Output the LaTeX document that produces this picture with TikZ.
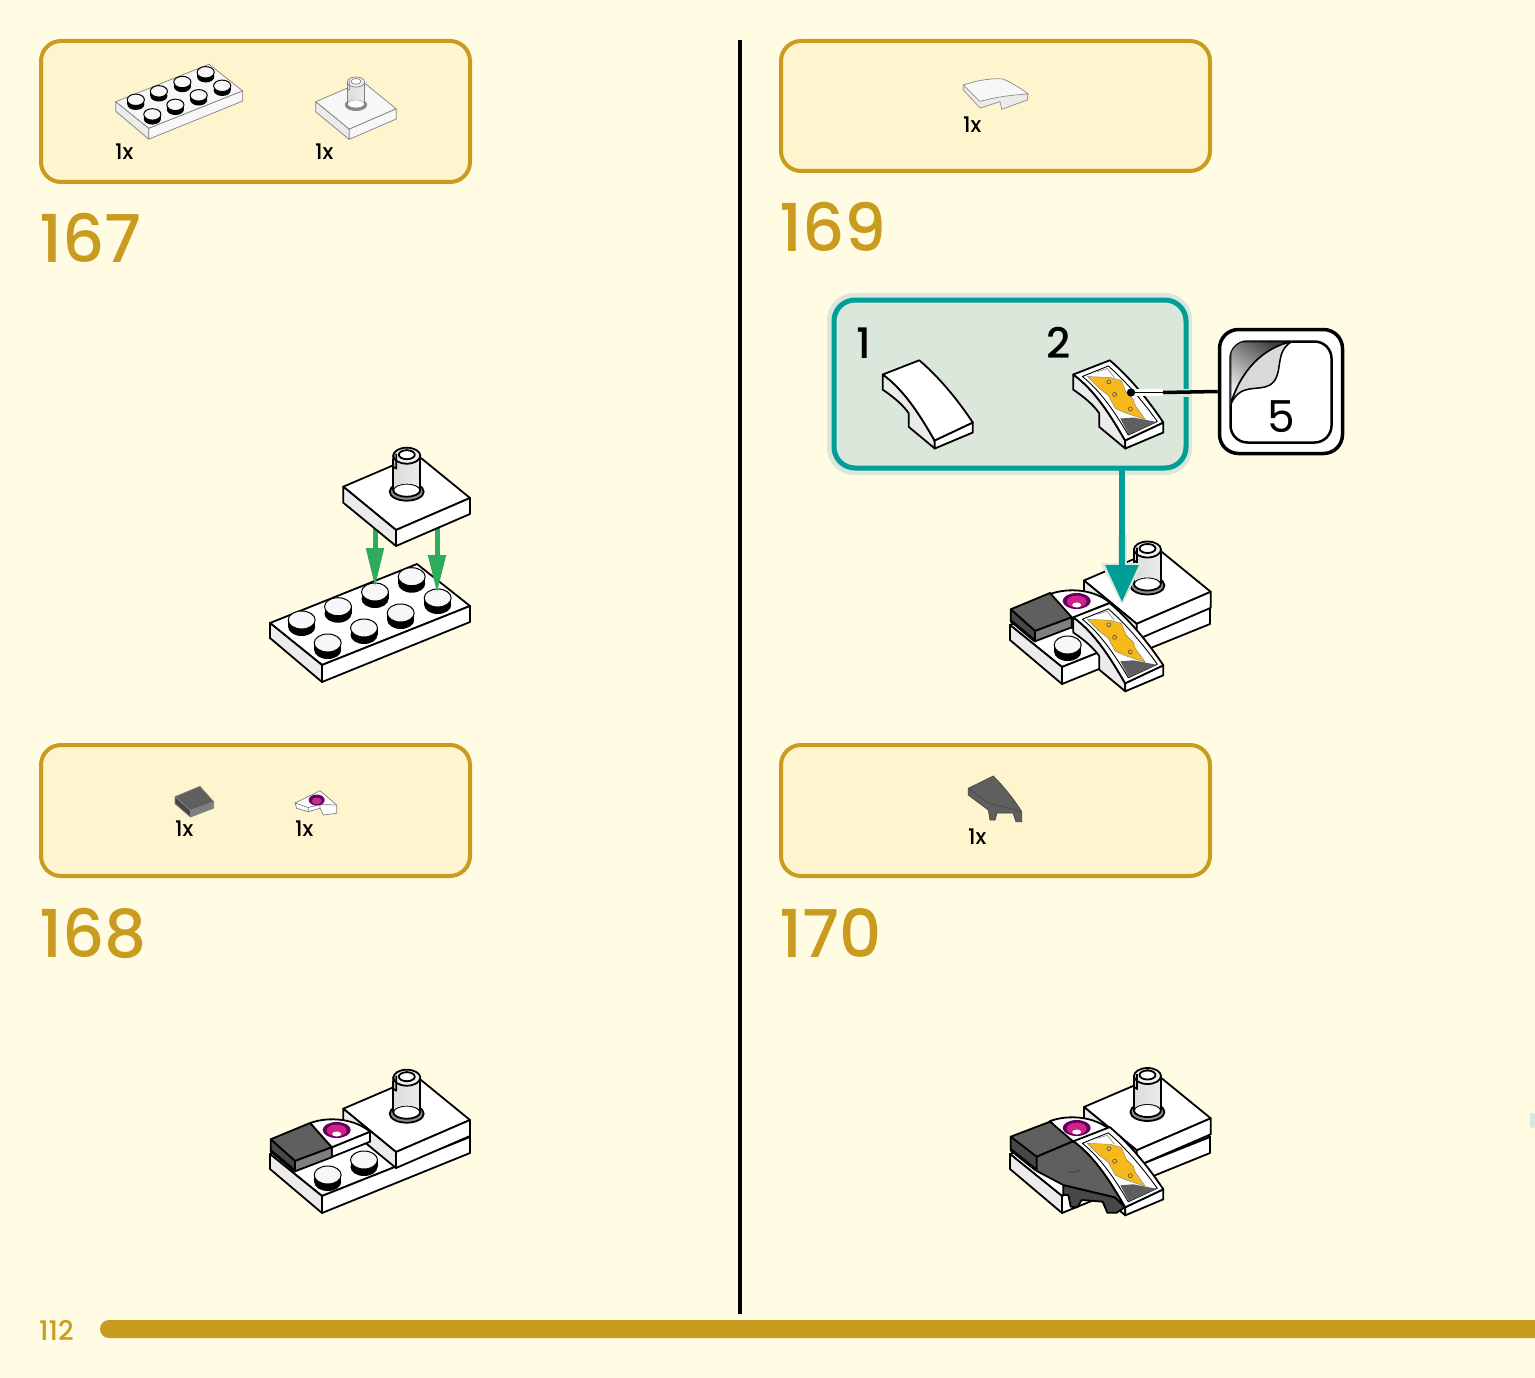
\documentclass[tikz,border=0pt]{standalone}
\usepackage{fontspec}
\usetikzlibrary{arrows.meta}
\newfontfamily\stepfont[UprightFont=* Medium]{Poppins}
\newfontfamily\labelfont[UprightFont=* Medium]{Poppins}
\newfontfamily\plainfont{Poppins}
\definecolor{pagebg}{HTML}{FFFCE3}
\definecolor{boxbg}{HTML}{FEF5CE}
\definecolor{gold}{HTML}{C99B1E}
\definecolor{tealline}{HTML}{009E96}
\definecolor{tealbg}{HTML}{DAE7DA}
\definecolor{arrowgreen}{HTML}{2FAB5E}
\definecolor{darkpart}{HTML}{5F5F5F}
\definecolor{sidepart}{HTML}{474747}
\definecolor{stickeryellow}{HTML}{F5B91C}
\newcommand\studshape{
    \fill[black] (-13.5,0) rectangle (13.5,7);
    \fill[black] (0,7) ellipse [x radius=13.5, y radius=9];
    \filldraw[fill=black!3, draw=black, line width=1pt] (0,0) ellipse [x radius=13.5, y radius=9];
}
\newcommand\plateshape{
    \path[brickface] (0,0) -- (52,42) -- (200,-17) -- (147,-59) -- cycle;
    \path[brickside] (0,0) -- (52,42) -- (52,59) -- (0,15) -- cycle;
    \path[brickface] (52,42) -- (200,-17) -- (200,-1) -- (52,59) -- cycle;
}
\tikzset{
    brickline/.style={draw=black, line width=1.8pt, line join=round},
    brickface/.style={fill=white, brickline},
    brickside/.style={fill=black!8, brickline},
    smallpart/.style={brickline/.style={draw=black!50, line width=.7pt, line join=round},
        brickface/.style={fill=black!3, brickline}, brickside/.style={fill=black!8, brickline}},
    partbox/.style={draw=gold, line width=4pt, fill=boxbg, rounded corners=20pt},
    stepnum/.style={anchor=west, inner sep=0pt, text=gold, font=\stepfont\fontsize{66}{66}\selectfont},
    countlabel/.style={anchor=west, inner sep=0pt, font=\labelfont\fontsize{21.5}{22}\selectfont},
    callnum/.style={inner sep=0pt, font=\stepfont\fontsize{42}{42}\selectfont},
    stud/.pic={\studshape},
    plate/.pic={\plateshape},
    fullplate/.pic={
        \plateshape
        \foreach \sx/\sy in {141.7/-46.3, 105/-31, 167.7/-25, 68/-16.3, 130.7/-10, 31.7/-3, 94/5, 57.7/20} {
            \begin{scope}[shift={(\sx,\sy)}]
                \studshape
            \end{scope}
        }
    },
    pintile/.pic={
        \path[brickface] (0,0) -- (52.7,43.3) -- (126.7,11.3) -- (74,-31.7) -- cycle;
        \path[brickside] (0,0) -- (52.7,43.3) -- (52.7,59.3) -- (0,16) -- cycle;
        \path[brickface] (52.7,43.3) -- (126.7,11.3) -- (126.7,27.3) -- (52.7,59.3) -- cycle;
        \path[brickline, fill=black!45] (63.4,5) ellipse [x radius=17, y radius=9];
        \path[brickline, fill=white] (63.4,3.5) ellipse [x radius=13.5, y radius=6.5];
        \shade[left color=black!14, middle color=white, right color=black!8]
            (50,-28) -- (50,3) arc [start angle=180, end angle=360, x radius=13.5, y radius=6] -- (77,-28) -- cycle;
        \draw[brickline] (50,-28) -- (50,3) (77,-28) -- (77,3);
        \path[brickline, fill=black!6] (63.5,-31) ellipse [x radius=13.5, y radius=8];
        \path[brickline, fill=white] (63.5,-32) ellipse [x radius=8, y radius=4.5];
        \draw[brickline] (50,-32) -- (50,-20) -- (53,-18) -- (53,-33) (63.5,-38) -- (63.5,-36);
    },
    flattile/.pic={
        \path[brickline, fill=darkpart] (0,0) -- (39.3,-16.3) -- (61,8) -- (24.3,21.7) -- cycle;
        \path[brickline, fill=sidepart] (0,0) -- (24.3,21.7) -- (24.3,32) -- (0,11) -- cycle;
        \path[brickline, fill=darkpart!80] (24.3,21.7) -- (61,8) -- (61,18) -- (24.3,32) -- cycle;
    },
    roundtile/.pic={
        \path[brickface] (21.7,24.3) -- (60,8.7) -- (60,18.7) -- (21.7,34) -- cycle;
        \path[brickface] (0,0) .. controls (20,-7) and (45,-4) .. (60,8.7) -- (21.7,24.3) -- cycle;
        \fill[violet!75!black] (26.7,7) ellipse [x radius=14, y radius=8];
        \fill[magenta!85!black] (26.7,7.5) ellipse [x radius=10, y radius=6];
        \fill[white] (26.7,11) ellipse [x radius=4.5, y radius=2.5];
    },
    curveslope/.pic={
        \path[brickside] (0,0) -- (0,15.2) .. controls (10,22) and (20,30) .. (26,38.9) -- (26,52.4)
            -- (52,74) -- (51.8,66) .. controls (38,42) and (22,16) .. (0,0) -- cycle;
        \path[brickface] (51.8,66) -- (90,48) -- (90,58) -- (52,74) -- cycle;
        \path[brickface] (0,0) -- (36.5,-14.2) .. controls (60,6) and (78,30) .. (90,48) -- (51.8,66)
            .. controls (38,42) and (22,16) .. (0,0) -- cycle;
    },
    stickerart/.pic={
        \path[brickline, line width=.9pt, fill=white] (9,2) -- (35,-8.5) .. controls (54,8) and (72,30) .. (84,47)
            -- (55,60.5) .. controls (43,40) and (28,17) .. (9,2) -- cycle;
        \fill[darkpart] (47,44) -- (60,43) -- (83.5,47.5) -- (55.5,60) -- cycle;
        \draw[black!40, line width=.8pt] (24,-3) -- (34,-6) -- (41,3);
        \path[fill=stickeryellow, draw=black!50, line width=.4pt] (14,2) -- (37,3) -- (48,6) -- (53,18) -- (60,25) -- (62,31)
            -- (72,45) -- (52.4,38.5) -- (42,34) -- (35,21) -- (26,14) -- cycle;
        \foreach \hx/\hy in {35.5/7.4, 41.3/20, 57/34.5}
            \draw[black!70, line width=.6pt] (\hx,\hy) circle [radius=2];
    },
}
\begin{document}
\begin{tikzpicture}[x=1pt, y=-1pt]
\useasboundingbox (0,0) rectangle (1535,1378);
\fill[pagebg] (0,0) rectangle (1535,1378);

% page furniture
\draw[black, line width=4pt] (740,40) coordinate (divtop) -- (740,1314) coordinate (divbot);
\fill[gold] (1535,1320) [rounded corners=9pt] -- (100,1320) -- (100,1338) [sharp corners] -- (1535,1338) -- cycle;
\node[anchor=west, inner sep=0pt, text=gold, font=\labelfont\fontsize{27}{28}\selectfont] (pagenum) at (39,1330) {112};
\fill[tealbg, rounded corners=2pt] (1530,1113) rectangle (1535,1128);

% part boxes
\draw[partbox] (41,41) rectangle (470,182);
\draw[partbox] (781,41) rectangle (1210,171);
\draw[partbox] (41,745) rectangle (470,876);
\draw[partbox] (781,745) rectangle (1210,876);

% step numbers
\node[stepnum] (num167) at (39,238) {167};
\node[stepnum] (num168) at (39,933) {168};
\node[stepnum] (num169) at (779,227) {169};
\node[stepnum] (num170) at (779,933) {170};

% box 167
\pic[scale=.635, smallpart] at (115.7,101.7) {fullplate};
\pic[scale=.635, smallpart] at (315.7,101.7) {pintile};
\node[countlabel] (cnt167a) at (115,152) {1x};
\node[countlabel] (cnt167b) at (315,152) {1x};

% box 168
\pic[scale=.635, smallpart] at (175,796.7) {flattile};
\path[draw=black!50, line width=.7pt, fill=white] (295,803) -- (320,790.7) -- (336.7,805) -- (336.7,813.3) -- (323.3,815) -- (320,808.3) -- (308.3,811.7) -- (296.7,808.3) -- cycle;
\draw[black!50, line width=.7pt] (295,803) -- (308.3,807.5) -- (320,804.5) -- (336.7,805) (308.3,807.5) -- (308.3,811.7) (320,804.5) -- (320,808.3);
\fill[violet!80!black] (316.7,800) ellipse [x radius=8, y radius=5.5];
\fill[magenta!75!black] (316.7,801) ellipse [x radius=5, y radius=3.5];
\node[countlabel] (cnt168a) at (175,829) {1x};
\node[countlabel] (cnt168b) at (295,829) {1x};

% box 169
\path[draw=black!45, line width=.7pt, fill=black!8] (963.3,85) -- (963.3,90) -- (980,108) -- (1000,101.7) -- (1001.7,109.3) -- (1027.3,100) -- (1028,94) -- cycle;
\path[draw=black!45, line width=.7pt, fill=black!3] (963.3,85) .. controls (978,80) and (993,78) .. (1003,79) .. controls (1012,83) and (1022,89) .. (1028,94) .. controls (1012,95) and (995,97) .. (980,101.5) -- cycle;
\node[countlabel] (cnt169) at (963,125) {1x};

% box 170
\path[draw=darkpart!70!black, line width=.7pt, fill=darkpart] (968.3,788.3) -- (993.3,776) .. controls (1004,787) and (1014,799) .. (1021.7,811.7) -- (1021.7,821.7) -- (1016,821.7) -- (1013,813) -- (997,813) -- (995,820) -- (990,820) -- (988.3,810) -- (968.3,795) -- cycle;
\draw[sidepart, line width=.7pt] (968.3,788.3) -- (988.3,803) -- (1021.7,811.7);
\node[countlabel] (cnt170) at (968,837) {1x};

% step 167
\pic at (270,623) {fullplate};
\coordinate (arrowa) at (375,587);
\coordinate (arrowb) at (437,593);
\coordinate (taila) at (375,515);
\coordinate (tailb) at (437,515);
\draw[arrowgreen, line width=5pt, -{Triangle[length=39pt,width=17pt]}] (taila) -- (arrowa);
\draw[arrowgreen, line width=5pt, -{Triangle[length=38pt,width=17pt]}] (tailb) -- (arrowb);
\pic at (343.3,486.7) {pintile};

% step 168
\pic at (270,1154) {plate};
\foreach \sx/\sy in {364/1160, 327.7/1175}
    \pic at (\sx,\sy) {stud};
\pic at (343.3,1108.7) {pintile};
\pic at (310,1123) {roundtile};
\pic at (270.7,1139.3) {flattile};
\draw[black, line width=3pt, line cap=round] (271,1151) -- (295,1171);

% step 169
\pic at (1010,625) {plate};
\pic at (1067.7,645) {stud};
\pic at (1084,580.5) {pintile};
\pic at (1050,594) {roundtile};
\pic at (1010.7,609.3) {flattile};
\draw[black, line width=3pt, line cap=round] (1011,621) -- (1035,641);
\pic at (1073.3,617.3) {curveslope};
\pic at (1073.3,617.3) {stickerart};

% step 170
\pic at (1010,1154) {plate};
\pic at (1084,1107) {pintile};
\pic at (1050,1121) {roundtile};
\pic at (1073.3,1141.3) {curveslope};
\pic at (1073.3,1141.3) {stickerart};
\path[brickline, fill=darkpart] (1010.7,1136.7) -- (1050,1121.7) -- (1073,1141.3) -- (1036.7,1156.7) -- (1036.7,1170) -- (1010.7,1149) -- cycle;
\path[brickline, fill=sidepart] (1010.7,1136.7) -- (1036.7,1156.7) -- (1036.7,1170) -- (1010.7,1149) -- cycle;
\draw[black, line width=3pt, line cap=round] (1011,1150) -- (1036,1170);
\path[brickline, fill=sidepart] (1063.3,1185) -- (1115,1197.3) -- (1125,1207) -- (1116.7,1212.7) -- (1107.3,1212.7) -- (1102.7,1201.7) -- (1081.7,1200) -- (1077.3,1207.3) -- (1070.7,1206.7) -- (1068.3,1195) -- (1063.3,1195) -- cycle;
\path[brickline, fill=darkpart] (1036.7,1156.7) -- (1073.3,1141.3) .. controls (1095.3,1157.3) and (1111.3,1183.3) .. (1125,1207.3)
    -- (1115,1197.3) -- (1063.3,1185) -- (1036.7,1171) -- cycle;
\draw[black!75, line width=.8pt] (1068,1172) .. controls (1072,1173) and (1076,1172) .. (1080,1170);

% callout 169
\draw[tealbg, fill=tealbg, line width=6pt, rounded corners=24pt] (830,296) rectangle (1189,472);
\draw[tealline, fill=tealbg, line width=5pt, rounded corners=21pt] (834,300) rectangle (1186,468);
\node[callnum] (call1) at (864,343) {1};
\node[callnum] (call2) at (1059,343) {2};
\pic at (882.8,374.5) {curveslope};
\pic at (1073.3,374.5) {curveslope};
\pic at (1073.3,374.5) {stickerart};

% flow arrow
\coordinate (flowtop) at (1122,470);
\coordinate (flowtip) at (1122,602);
\draw[tealbg, line width=9pt, -{Triangle[length=42pt,width=40pt]}] (1122,535) -- (1122,605);
\draw[tealline, line width=6pt, -{Triangle[length=37pt,width=32pt]}] (flowtop) -- (flowtip);

% sticker marker
\node[draw=black, fill=white, line width=3.5pt, minimum width=123pt, minimum height=124pt, rounded corners=19pt, inner sep=0pt] (stickerbox) at (1281,391.5) {};
\node[draw=black, line width=2.5pt, fill=white, minimum width=101pt, minimum height=101pt, rounded corners=17pt, inner sep=0pt] (stickerinner) at (1281,392) {};
\begin{scope}
\clip[rounded corners=17pt] (1230.5,341.5) rectangle (1331.5,442.5);
\shade[left color=black!75, right color=black!5, shading angle=-35, draw=black, line width=1.5pt] (1230.5,341.5) -- (1292,341.5) .. controls (1262,348) and (1240,372) .. (1230.5,405) -- cycle;
\path[draw=black, line width=1.5pt, fill=black!15] (1230.5,405) .. controls (1240,372) and (1262,348) .. (1292,341.5)
    .. controls (1273,352) and (1285,375) .. (1270,385) .. controls (1258,392) and (1240,382) .. (1230.5,405) -- cycle;
\end{scope}
\node[inner sep=0pt, font=\plainfont\fontsize{44}{44}\selectfont] (stickernum) at (1281,417) {5};
\node[circle, fill=black, inner sep=0pt, minimum size=8pt] (stickerdot) at (1131,392.5) {};
\draw[white, line width=7pt] (stickerdot) -- (1163,392.5);
\draw[tealbg, line width=8pt] (1163,392.5) -- (1192,392.5);
\draw[black, line width=1.5pt] (stickerdot) -- (1163,392.5);
\draw[black, line width=3.5pt] (1163,392.5) -- (stickerbox.west);
\fill[black] (stickerdot) circle [radius=4];

\end{tikzpicture}
\end{document}
